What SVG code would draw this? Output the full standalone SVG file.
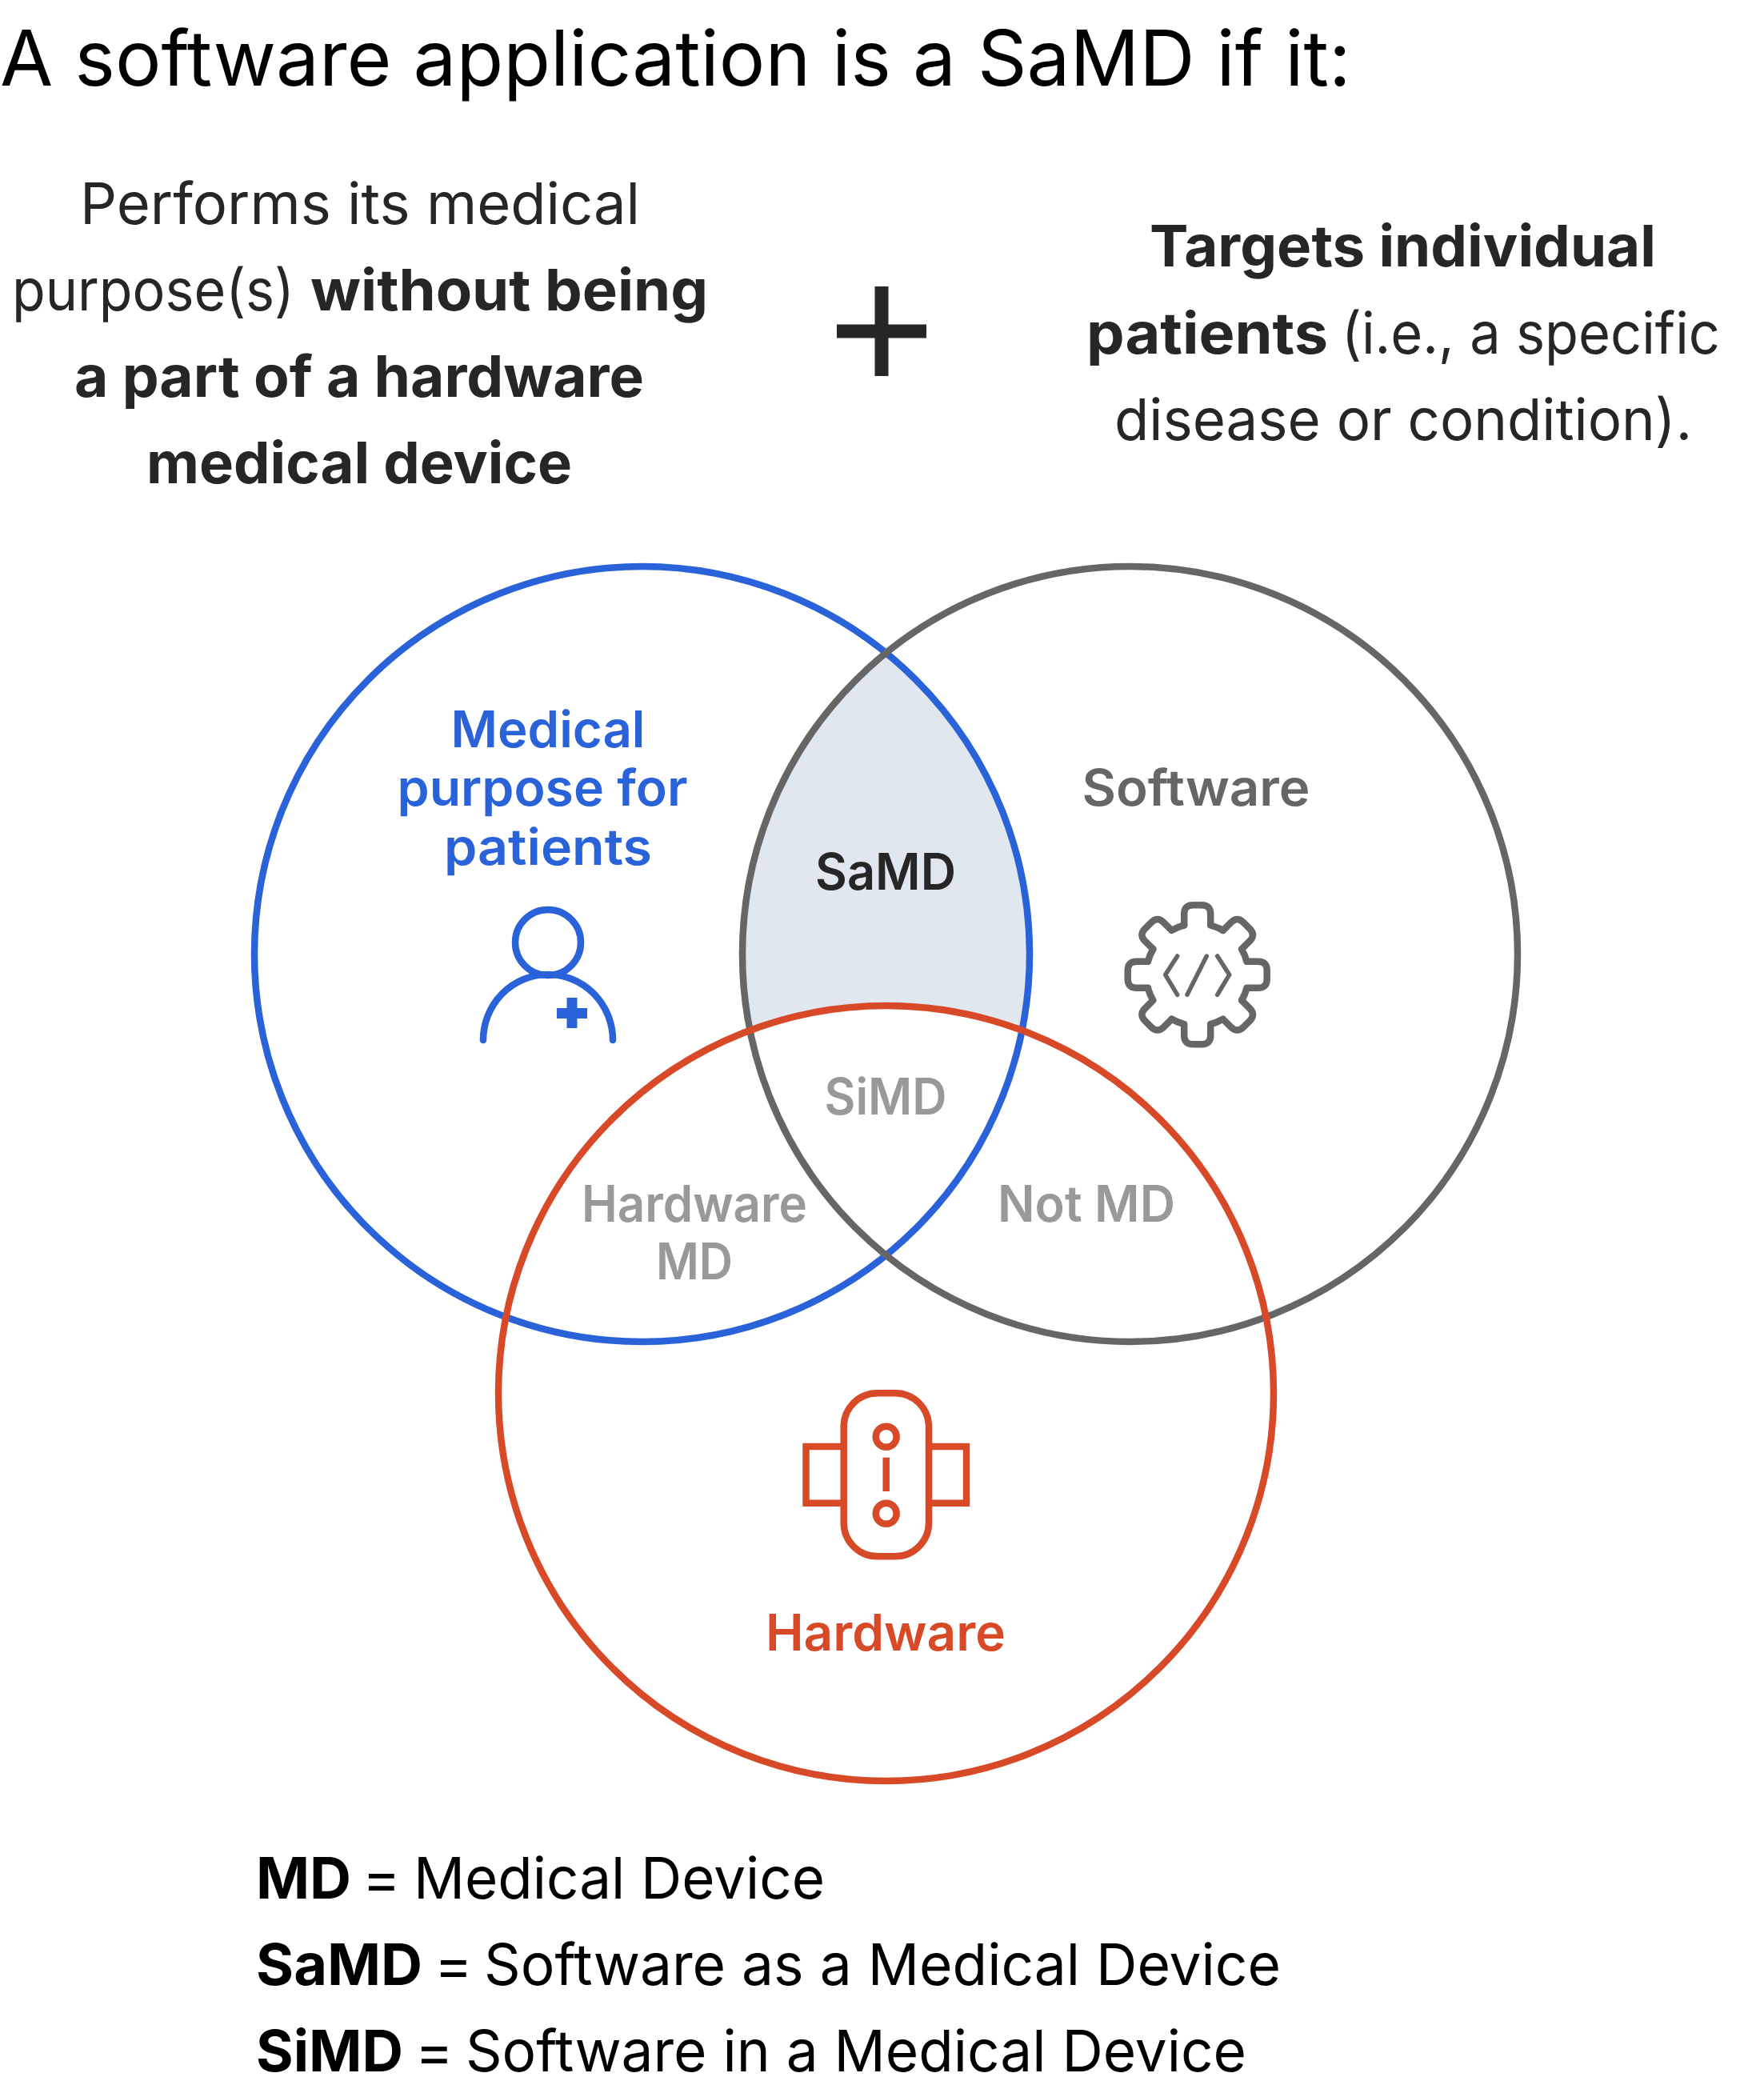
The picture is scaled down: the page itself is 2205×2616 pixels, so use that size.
<svg xmlns="http://www.w3.org/2000/svg" width="2205" height="2616" viewBox="0 0 2205 2616">
<style>
text{font-family:Inter,"Noto Sans","Liberation Sans",sans-serif}
.title{font-size:96px;fill:#000}
.body{font-size:72px;fill:#262626}
.legend{font-size:72px;fill:#000}
.b{font-weight:700}
.lab{font-size:63px;font-weight:600;text-anchor:middle}
.ring{fill:none;stroke-width:8.500}
.blue{fill:#2962d9}.grey{fill:#666}.red{fill:#d84a27}.lite{fill:#999}.dark{fill:#262626}
.is{fill:none;stroke-width:8.500;stroke-linecap:round;stroke-linejoin:round}
</style>
<defs>
<path id="seg" d="M-16.5-61.8V-76Q-16.5-87-5.5-87H5.500Q16.500-87 16.500-76V-61.800A64 64 0 0 1 32.030-55.400"/>
</defs>
<rect width="2205" height="2616" fill="#fff"/>
<text class="title" x="0" y="107">A software application is a SaMD if it:</text>
<g id="left-criterion">
<text class="body" x="100" y="280" textLength="700" lengthAdjust="spacingAndGlyphs">Performs its medical</text>
<text class="body" x="15" y="388" textLength="353" lengthAdjust="spacingAndGlyphs">purpose(s)</text>
<text class="body b" x="388" y="388" textLength="497" lengthAdjust="spacingAndGlyphs">without being</text>
<text class="body b" x="93" y="496" textLength="712" lengthAdjust="spacingAndGlyphs">a part of a hardware</text>
<text class="body b" x="183" y="604" textLength="532" lengthAdjust="spacingAndGlyphs">medical device</text>
</g>
<path id="plus" d="M1102 358V470M1046 414H1158" stroke="#262626" stroke-width="17" fill="none"/>
<g id="right-criterion">
<text class="body b" x="1437" y="333" textLength="633" lengthAdjust="spacingAndGlyphs">Targets individual</text>
<text class="body b" x="1358" y="442" textLength="302" lengthAdjust="spacingAndGlyphs">patients</text>
<text class="body" x="1677" y="442" textLength="473" lengthAdjust="spacingAndGlyphs">(i.e., a specific</text>
<text class="body" x="1393" y="550" textLength="722" lengthAdjust="spacingAndGlyphs">disease or condition).</text>
</g>
<path id="samd-region" d="M1107.500 816A484.500 484.500 0 0 1 1277 1288A484.500 484.500 0 0 0 938 1288A484.500 484.500 0 0 1 1107.500 816Z" fill="#e1e7ee"/>
<g id="medical-purpose">
<circle class="ring" cx="802.500" cy="1192.500" r="484.500" stroke="#2962d9"/>
<text class="lab blue" x="685" y="934" textLength="243" lengthAdjust="spacingAndGlyphs">Medical</text>
<text class="lab blue" x="678" y="1007" textLength="363" lengthAdjust="spacingAndGlyphs">purpose for</text>
<text class="lab blue" x="685" y="1081" textLength="260" lengthAdjust="spacingAndGlyphs">patients</text>
<circle class="is" cx="685" cy="1178" r="41" stroke="#2962d9"/>
<path class="is" d="M604 1300A81 82 0 0 1 766 1300" stroke="#2962d9"/>
<path d="M708.500 1247H721.500V1260H734V1273H721.500V1285H708.500V1273H696V1260H708.500Z" fill="#2962d9"/>
</g>
<g id="software">
<circle class="ring" cx="1412.500" cy="1192.500" r="484.500" stroke="#666"/>
<text class="lab grey" x="1495" y="1007" textLength="285" lengthAdjust="spacingAndGlyphs">Software</text>
<g class="is" stroke="#666" transform="translate(1496.700 1218.300)">
<use href="#seg"/><use href="#seg" transform="rotate(45)"/><use href="#seg" transform="rotate(90)"/><use href="#seg" transform="rotate(135)"/><use href="#seg" transform="rotate(180)"/><use href="#seg" transform="rotate(225)"/><use href="#seg" transform="rotate(270)"/><use href="#seg" transform="rotate(315)"/>
<path stroke-width="5.500" d="M-25-23.300L-40 0L-25 25M11.600-23.300L-12.700 25M25-23.300L40 0L25 25"/>
</g>
</g>
<g id="hardware">
<circle class="ring" cx="1107.500" cy="1741.500" r="484.500" stroke="#d84a27"/>
<g fill="none" stroke="#d84a27" stroke-width="8.500">
<rect x="1054.700" y="1741.300" width="106.300" height="204" rx="42"/>
<path d="M1054.700 1808H1007.500V1878.700H1054.700M1161 1808H1208V1878.700H1161"/>
<circle cx="1107.700" cy="1795.700" r="13"/>
<circle cx="1107.700" cy="1891.700" r="13"/>
<path d="M1107.700 1821.700V1864"/>
</g>
<text class="lab red" x="1107" y="2063" textLength="300" lengthAdjust="spacingAndGlyphs">Hardware</text>
</g>
<g id="regions">
<text class="lab dark" x="1107" y="1112" textLength="176" lengthAdjust="spacingAndGlyphs">SaMD</text>
<text class="lab lite" x="1107" y="1393" textLength="153" lengthAdjust="spacingAndGlyphs">SiMD</text>
<text class="lab lite" x="868" y="1527" textLength="282" lengthAdjust="spacingAndGlyphs">Hardware</text>
<text class="lab lite" x="868" y="1599" textLength="96" lengthAdjust="spacingAndGlyphs">MD</text>
<text class="lab lite" x="1358" y="1527" textLength="222" lengthAdjust="spacingAndGlyphs">Not MD</text>
</g>
<g id="legend">
<text class="legend b" x="320" y="2373">MD</text>
<text class="legend" x="453" y="2373">=</text>
<text class="legend" x="517" y="2373" textLength="514" lengthAdjust="spacingAndGlyphs">Medical Device</text>
<text class="legend b" x="320" y="2481" textLength="208" lengthAdjust="spacingAndGlyphs">SaMD</text>
<text class="legend" x="543" y="2481">=</text>
<text class="legend" x="605" y="2481" textLength="996" lengthAdjust="spacingAndGlyphs">Software as a Medical Device</text>
<text class="legend b" x="320" y="2589" textLength="184" lengthAdjust="spacingAndGlyphs">SiMD</text>
<text class="legend" x="519" y="2589">=</text>
<text class="legend" x="582" y="2589" textLength="976" lengthAdjust="spacingAndGlyphs">Software in a Medical Device</text>
</g>
</svg>
